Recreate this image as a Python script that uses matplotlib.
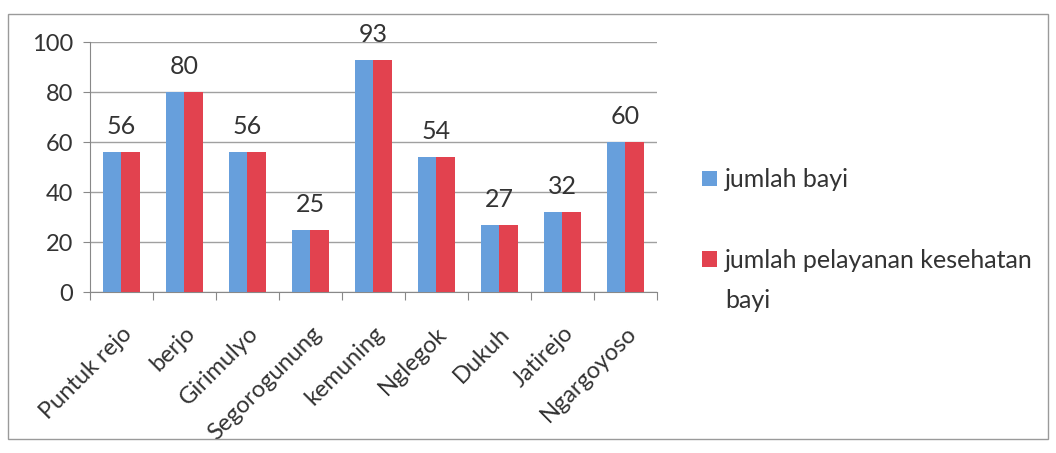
import matplotlib.pyplot as plt
import numpy as np
from matplotlib.patches import Rectangle

plt.rcParams['font.family'] = ['Lato', 'DejaVu Sans']

desa = ["Puntuk rejo", "berjo", "Girimulyo", "Segorogunung", "kemuning",
        "Nglegok", "Dukuh", "Jatirejo", "Ngargoyoso"]
jumlah_bayi = [56, 80, 56, 25, 93, 54, 27, 32, 60]
jumlah_pelayanan = [56, 80, 56, 25, 93, 54, 27, 32, 60]

fig = plt.figure(figsize=(10.56, 4.53), dpi=100)
ax = fig.add_axes([0.085, 0.355, 0.537, 0.552])

# Kotak luar seperti bingkai chart Excel
fig.patches.append(Rectangle((0.008, 0.03), 0.984, 0.94, transform=fig.transFigure,
                             fill=False, edgecolor="#9a9a9a", linewidth=1))

x = np.arange(len(desa))
w = 0.29
ax.bar(x - w / 2, jumlah_bayi, w, color="#679fdc", label="jumlah bayi", zorder=3)
ax.bar(x + w / 2, jumlah_pelayanan, w, color="#e2424f",
       label="jumlah pelayanan kesehatan", zorder=3)

for xi, v in zip(x, jumlah_bayi):
    ax.annotate(str(v), (xi, v), xytext=(0, 10), textcoords="offset points",
                ha="center", va="bottom", fontsize=18, color="#333333")

ax.set_ylim(0, 100)
ax.set_xlim(-0.5, len(desa) - 0.5)
ax.set_yticks(range(0, 101, 20))
ax.tick_params(axis="y", labelsize=17, colors="#333333", length=5, color="#888888", pad=7)
ax.yaxis.grid(True, color="#a0a0a0", linewidth=1, zorder=0)

ax.set_xticks(np.arange(-0.5, len(desa), 1), minor=False)
ax.set_xticklabels([])
ax.set_xticks(x, minor=True)
ax.set_xticklabels(desa, minor=True, rotation=45, ha="right", rotation_mode="anchor",
                   fontsize=17, color="#333333")
ax.tick_params(axis="x", which="major", length=6, color="#888888")
ax.tick_params(axis="x", which="minor", length=0, pad=22)

for s in ["top", "right"]:
    ax.spines[s].set_visible(False)
ax.spines["left"].set_color("#888888")
ax.spines["bottom"].set_color("#888888")

leg = fig.legend(loc="upper left", bbox_to_anchor=(0.643, 0.678), frameon=False,
                 fontsize=18, handlelength=0.6, handleheight=0.6, handletextpad=0.35,
                 labelspacing=2.3)
for t in leg.get_texts():
    t.set_color("#333333")

# baris kedua label legenda kedua
fig.canvas.draw()
bb = leg.get_texts()[1].get_window_extent().transformed(fig.transFigure.inverted())
fig.text(bb.x0, bb.y0 - 0.038, "bayi", ha="left", va="top", fontsize=18, color="#333333")

fig.savefig("out.png", dpi=100)
